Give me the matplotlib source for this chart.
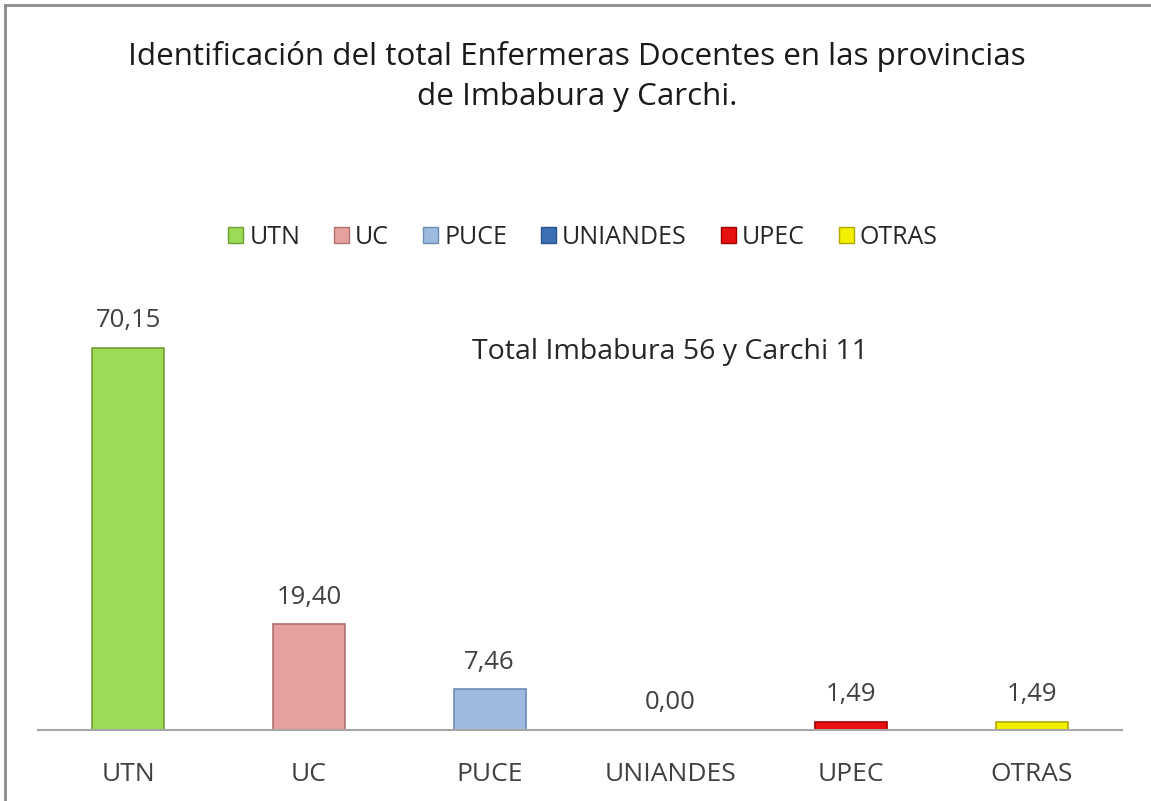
import matplotlib.pyplot as plt
from matplotlib.patches import Patch

categorias = ['UTN', 'UC', 'PUCE', 'UNIANDES', 'UPEC', 'OTRAS']
valores = [70.15, 19.40, 7.46, 0.00, 1.49, 1.49]
colores = ['#9BDB55', '#E6A0A0', '#9DBBE0', '#3C72B4', '#E81010', '#F2F000']
bordes = ['#6E9E38', '#B07070', '#6C8CB4', '#2A5288', '#A00000', '#B0A800']

plt.rcParams['font.family'] = ['Open Sans', 'DejaVu Sans']

fig = plt.figure(figsize=(11.51, 8.01), dpi=100)
ax = fig.add_axes([38 / 1151, 71 / 801, 1084 / 1151, 436 / 801])

x = range(len(categorias))
bars = ax.bar(x, valores, width=0.40, color=colores, edgecolor=bordes, linewidth=1.2)

for xi, v in zip(x, valores):
    ax.text(xi, v + 5.0, f'{v:.2f}'.replace('.', ','), ha='center', va='center',
            fontsize=18.5, color='#404040')

ax.set_xlim(-0.5, 5.5)
ax.set_ylim(0, 80)
ax.set_xticks(list(x))
ax.set_xticklabels(categorias, fontsize=19, color='#404040')
ax.tick_params(axis='x', length=0, pad=23)
ax.set_yticks([])
for s in ['top', 'right', 'left']:
    ax.spines[s].set_visible(False)
ax.spines['bottom'].set_color('#A6A6A6')
ax.spines['bottom'].set_linewidth(1.5)

ax.text(3.0, 69.3, 'Total Imbabura 56 y Carchi 11', ha='center', va='center',
        fontsize=20.5, color='#262626')

fig.text(577 / 1151, 1 - 57 / 801, 'Identificación del total Enfermeras Docentes en las provincias',
         ha='center', va='center', fontsize=22.6, color='#1a1a1a')
fig.text(577 / 1151, 1 - 97 / 801, 'de Imbabura y Carchi.',
         ha='center', va='center', fontsize=22.6, color='#1a1a1a')

handles = [Patch(facecolor=c, edgecolor=b, linewidth=1) for c, b in zip(colores, bordes)]
fig.legend(handles, categorias, loc='center', bbox_to_anchor=(583 / 1151, 1 - 237 / 801),
           ncol=6, frameon=False, fontsize=18, handlelength=0.6, handleheight=0.6,
           handletextpad=0.25, columnspacing=1.35, labelcolor='#262626')

# marco del grafico
fig.add_artist(plt.Line2D([5 / 1151, 5 / 1151], [0, 1 - 5 / 801], color='#8C8C8C', lw=2))
fig.add_artist(plt.Line2D([5 / 1151, 1], [1 - 5 / 801, 1 - 5 / 801], color='#8C8C8C', lw=2))

plt.savefig('out.png', dpi=100)
